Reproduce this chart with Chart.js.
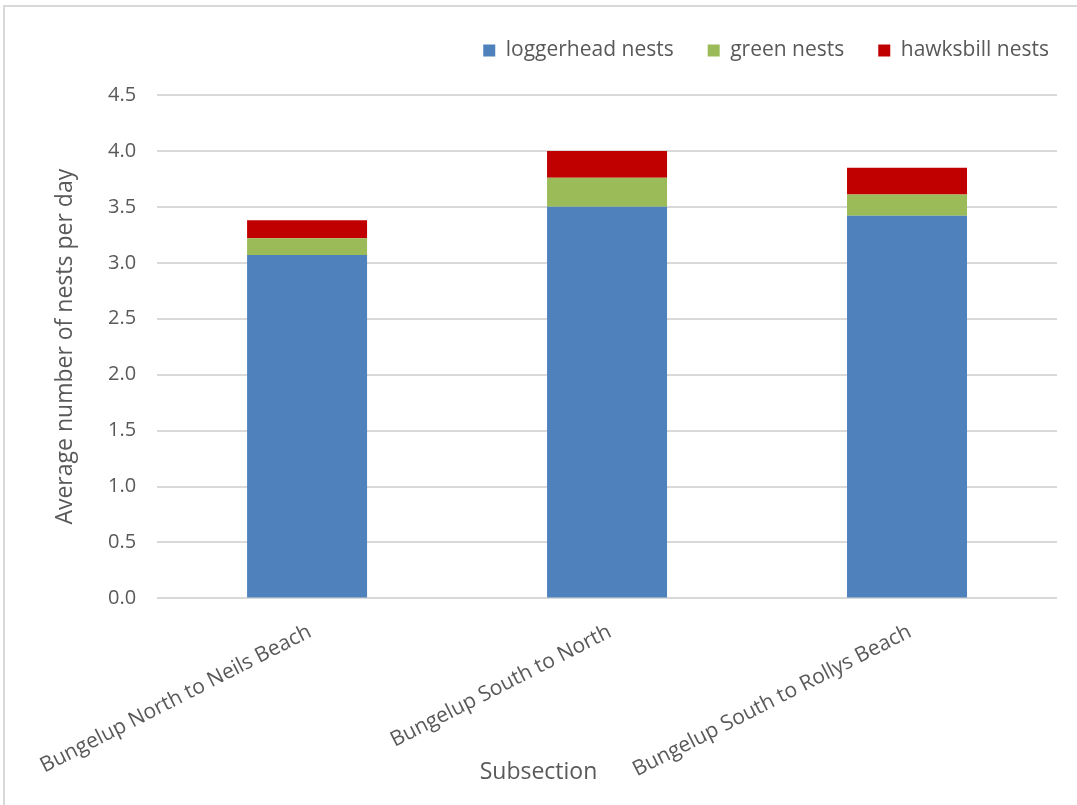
<!DOCTYPE html>
<html>
<head>
<meta charset="utf-8">
<script src="https://cdn.jsdelivr.net/npm/chart.js@4"></script>
<style>
  body { margin: 0; background: #fff; }
  #frame {
    position: absolute; left: 3px; top: 5px; width: 1100px; height: 820px;
    border: 2px solid #d9d9d9; box-sizing: border-box;
  }
  #wrap { position: absolute; left: 0; top: 0; width: 1077px; height: 805px; }
</style>
</head>
<body>
<div id="frame"></div>
<div id="wrap"><canvas id="nestChart"></canvas></div>
<script>
const subsections = ['Bungelup North to Neils Beach', 'Bungelup South to North', 'Bungelup South to Rollys Beach'];
const loggerhead = [3.07, 3.50, 3.42];
const green = [0.15, 0.26, 0.19];
const hawksbill = [0.16, 0.24, 0.24];
const yTicks = [0, 0.5, 1.0, 1.5, 2.0, 2.5, 3.0, 3.5, 4.0, 4.5];

const textColor = '#595959';
const fontFamily = '"Open Sans", Lato, sans-serif';

const data = {
  labels: subsections,
  datasets: [
    { label: 'loggerhead nests', data: loggerhead, backgroundColor: '#4f81bd' },
    { label: 'green nests', data: green, backgroundColor: '#9bbb59' },
    { label: 'hawksbill nests', data: hawksbill, backgroundColor: '#c00000' }
  ]
};

// move the legend row up and to the right edge of the frame
const legendShift = {
  id: 'legendShift',
  afterLayout(chart) {
    const lg = chart.legend;
    lg.top -= 24; lg.bottom -= 24;
    lg.left += 26; lg.right += 26;
  }
};

const config = {
  type: 'bar',
  data: data,
  plugins: [legendShift],
  options: {
    responsive: false,
    animation: false,
    layout: { padding: { left: 20, right: 20, top: 30, bottom: 19 } },
    datasets: { bar: { categoryPercentage: 1.0, barPercentage: 0.4 } },
    plugins: {
      legend: {
        position: 'top',
        align: 'end',
        labels: {
          color: textColor,
          font: { family: fontFamily, size: 21 },
          boxWidth: 12,
          boxHeight: 12,
          padding: 34
        }
      },
      // axis title sits under the rotated labels, centred on the whole chart
      title: {
        display: true,
        position: 'bottom',
        text: 'Subsection',
        color: textColor,
        font: { family: fontFamily, size: 23, weight: 'normal' },
        padding: { top: -27, bottom: 0 }
      },
      tooltip: { enabled: false }
    },
    scales: {
      x: {
        stacked: true,
        grid: { display: false },
        border: { display: false },
        ticks: {
          color: textColor,
          font: { family: fontFamily, size: 21 },
          minRotation: 27,
          maxRotation: 27,
          padding: 13,
          labelOffset: 3
        },
        afterFit: function (scale) { scale.height = 187; }
      },
      y: {
        stacked: true,
        min: 0,
        max: 4.5,
        afterBuildTicks: function (scale) {
          scale.ticks = yTicks.map(v => ({ value: v }));
        },
        grid: { color: '#d9d9d9', lineWidth: 2, drawTicks: false },
        border: { display: false },
        ticks: {
          color: textColor,
          font: { family: fontFamily, size: 20 },
          padding: 21,
          callback: v => Number(v).toFixed(1)
        },
        title: {
          display: true,
          text: 'Average number of nests per day',
          color: textColor,
          font: { family: fontFamily, size: 23 },
          padding: { top: 30, bottom: 0 }
        },
        afterFit: function (scale) { scale.width = 135; }
      }
    }
  }
};

const canvas = document.getElementById('nestChart');
canvas.width = 1077;
canvas.height = 805;
const nestChart = new Chart(canvas, config);
</script>
</body>
</html>
